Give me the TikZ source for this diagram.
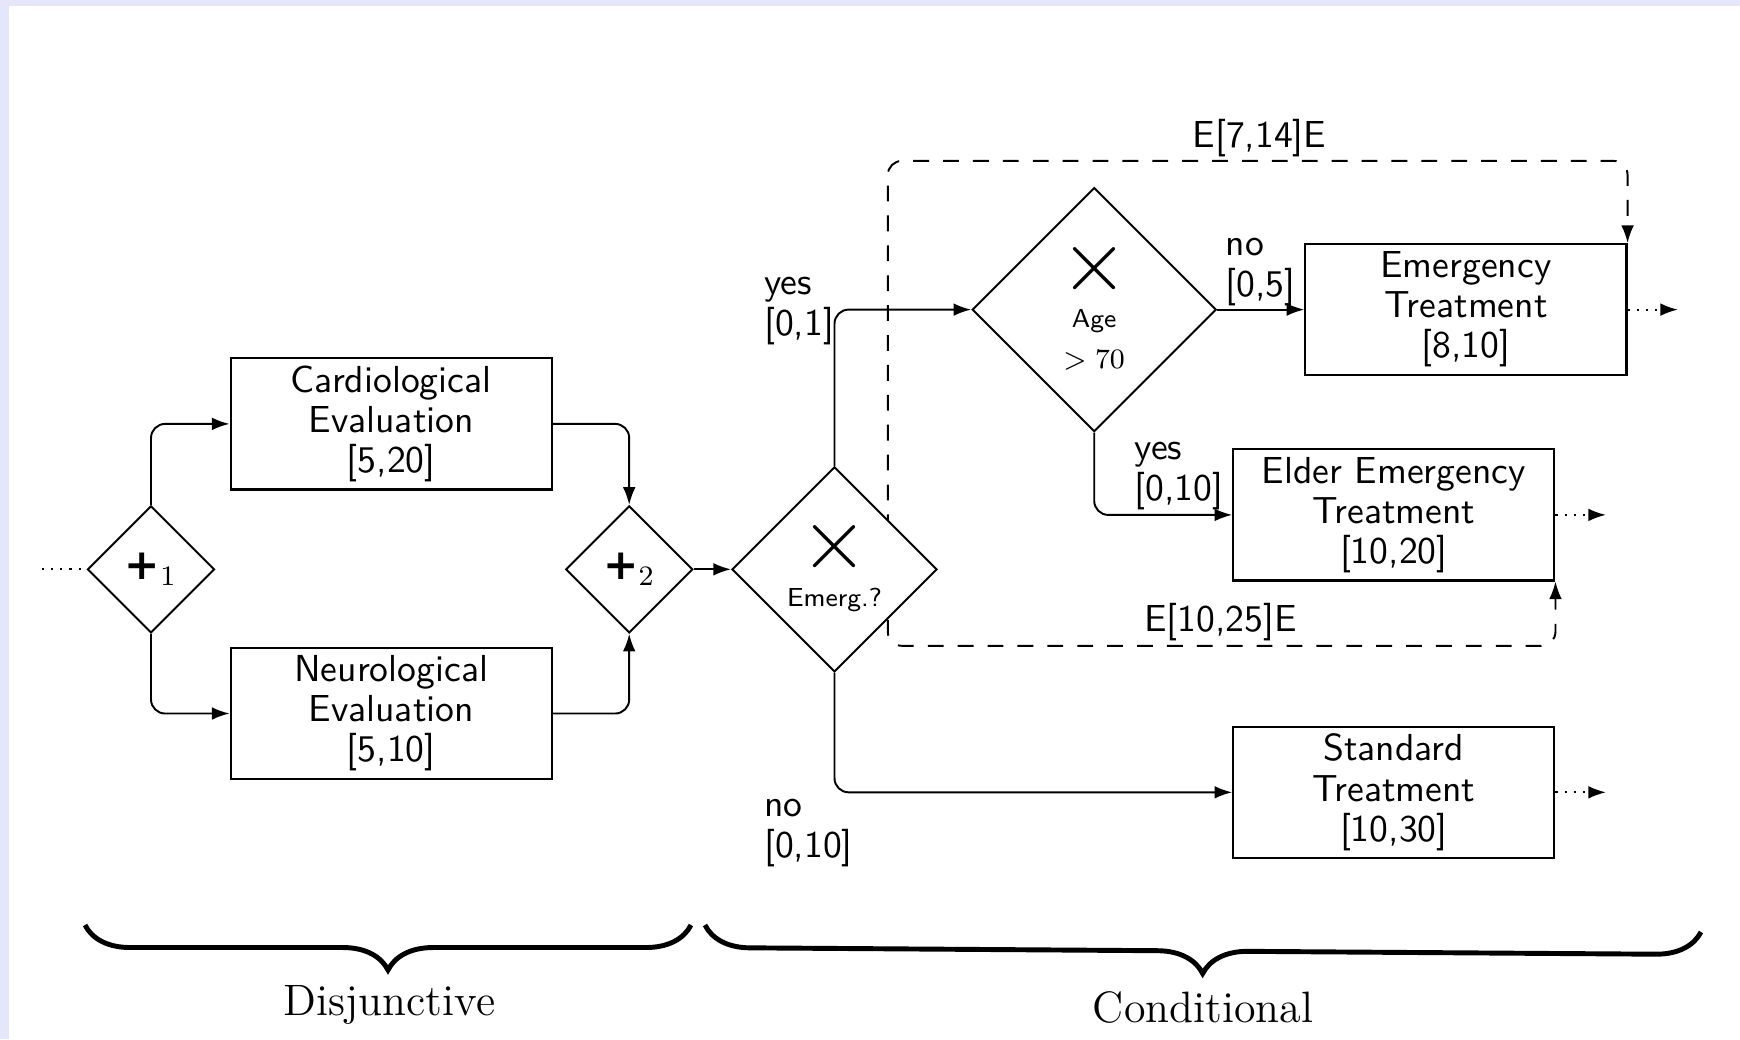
\documentclass[tikz,border=0pt]{standalone}
\usepackage{fontspec}
\newfontfamily\heavyplus{DejaVu Sans}
\usetikzlibrary{shapes.geometric, arrows.meta, decorations.pathreplacing}

\definecolor{frameedge}{RGB}{230,230,250}

\newcommand\tskfont{\sffamily\fontsize{10.7}{11.4}\selectfont}
\newcommand\gatefont{\sffamily\fontsize{7.4}{9}\selectfont}
\newcommand\crossfont{\fontsize{25}{25}\selectfont}
\newcommand\groupfont{\rmfamily\fontsize{12.5}{14}\selectfont}
\newcommand\plusgate[1]{{\heavyplus\bfseries\fontsize{12}{12}\selectfont +}{\fontsize{11}{12}\selectfont$_{#1}$}}

\begin{document}
\begin{tikzpicture}[x=0.01cm, y=-0.01cm,
  task/.style={draw, line width=0.6pt, fill=white, minimum width=3.21cm,
    minimum height=1.31cm, inner sep=0pt, align=center, font=\tskfont},
  gate/.style={diamond, draw, line width=0.55pt, fill=white, inner sep=0pt, aspect=1},
  flow/.style={line width=0.55pt, -{Latex[length=5pt,width=3.6pt]}, rounded corners=4pt},
  tail/.style={line width=0.6pt, dotted, -{Latex[length=5pt,width=3.6pt]}},
  constraint/.style={line width=0.55pt, dash pattern=on 4.5pt off 4pt, rounded corners=4pt},
  lbl/.style={align=left, font=\tskfont, inner sep=0pt},
  glyph/.style={inner sep=0pt},
  groupbrace/.style={decorate, decoration={brace, mirror, amplitude=0.45cm}, line width=1.4pt},
]
% page and frame strips
\fill[white] (0,0) rectangle (1740,1039);
\fill[frameedge] (0,0) rectangle (9,1039);
\fill[frameedge] (0,0) rectangle (1740,6);

% tasks
\node[task] (cardio) at (391.2,423.9) {Cardiological\\Evaluation\\{}[5,20]};
\node[task] (neuro)  at (391.2,713.5) {Neurological\\Evaluation\\{}[5,10]};
\node[task] (emt)    at (1465.9,309.6) {Emergency\\Treatment\\{}[8,10]};
\node[task] (elder)  at (1393.8,514.9) {Elder Emergency\\Treatment\\{}[10,20]};
\node[task] (std)    at (1393.8,792.3) {Standard\\Treatment\\{}[10,30]};

% temporal constraints (drawn below the gateways)
\coordinate (cstart) at (887.8,590);
\coordinate (ctop) at (887.8,160.9);
\coordinate (cbot) at (887.8,645.8);
\draw[constraint, -{Latex[length=5pt,width=3.6pt]}] (cstart) -- (ctop) -| (emt.north east);
\draw[constraint, -{Latex[length=5pt,width=3.6pt]}] (cstart) -- (cbot) -| (elder.south east);
\node[lbl] (c1) at (1259.5,138.5) {E[7,14]E};
\node[lbl] (c2) at (1220.7,622.5) {E[10,25]E};

% gateways
\node[gate, minimum width=1.27cm, minimum height=1.27cm] (p1) at (151,569.3) {\plusgate{1}};
\node[gate, minimum width=1.27cm, minimum height=1.27cm] (p2) at (629.2,569.3) {\plusgate{2}};
\node[gate, minimum width=2.05cm, minimum height=2.05cm] (emerg) at (834.5,569.3) {};
\node[glyph] (emergx) at (834.5,547) {\crossfont$\times$};
\node[glyph] (emergq) at (834.5,600) {\gatefont Emerg.?};
\node[gate, minimum width=2.44cm, minimum height=2.44cm] (age) at (1094.2,309.6) {};
\node[glyph] (agex) at (1094.2,269) {\crossfont$\times$};
\node[glyph] (agea) at (1094.2,321) {\gatefont Age};
\node[glyph] (ageb) at (1094.2,360) {\fontsize{8}{10}\selectfont$>70$};

% incoming and outgoing flows
\coordinate (inflow) at (42,569.3);
\coordinate (emtout) at (1678,309.6);
\coordinate (elderout) at (1606,514.9);
\coordinate (stdout) at (1606,792.3);
\draw[line width=0.6pt, dotted] (inflow) -- (p1.west);
\draw[tail] (emt.east) -- (emtout);
\draw[tail] (elder.east) -- (elderout);
\draw[tail] (std.east) -- (stdout);

% sequence flows
\draw[flow] (p1.north) |- (cardio.west);
\draw[flow] (p1.south) |- (neuro.west);
\draw[flow] (cardio.east) -| (p2.north);
\draw[flow] (neuro.east) -| (p2.south);
\draw[flow] (p2.east) -- (emerg.west);
\draw[flow] (emerg.north) |- (age.west);
\draw[flow] (emerg.south) |- (std.west);
\draw[flow] (age.east) -- (emt.west);
\draw[flow] (age.south) |- (elder.west);

% branch labels
\node[lbl, anchor=west] (l1) at (763.5,311) {yes\\{}[0,1]};
\node[lbl, anchor=west] (l2) at (1225,272) {no\\{}[0,5]};
\node[lbl, anchor=west] (l3) at (1134,476) {yes\\{}[0,10]};
\node[lbl, anchor=west] (l4) at (763.5,833) {no\\{}[0,10]};

% groups
\draw[groupbrace] (85,925) -- (691,925);
\draw[groupbrace] (705,925) -- (1701,932);
\node[font=\groupfont] (g1) at (389.5,1004.5) {Disjunctive};
\node[font=\groupfont] (g2) at (1203,1007.5) {Conditional};
\end{tikzpicture}
\end{document}
